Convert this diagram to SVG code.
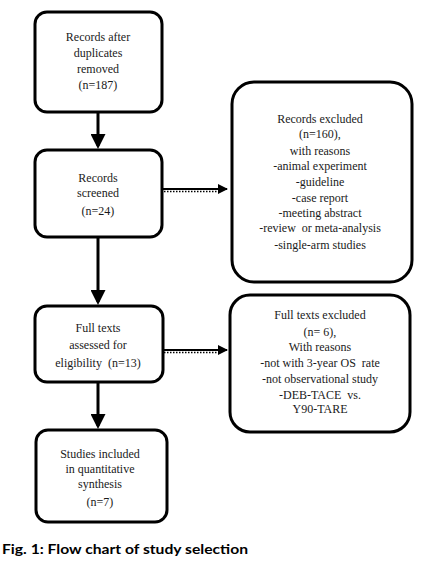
<svg xmlns="http://www.w3.org/2000/svg" width="427" height="567" viewBox="0 0 427 567">
<style>
.box{fill:#fff;stroke:#000;stroke-width:3}
.t{font-family:"Liberation Serif","Times New Roman",serif;font-size:12px;fill:#1a1a1a;text-anchor:middle;white-space:pre}
.c{stroke:#000;stroke-width:3;fill:none}
.h{stroke:#000;stroke-width:2;fill:none}
.d{stroke:#000;stroke-width:1.5;fill:none;stroke-dasharray:1.5 1.5}
.cap{font-family:"Lato","Liberation Sans",sans-serif;font-size:14px;font-weight:bold;fill:#000}
</style>
<defs>
<marker id="ah" markerWidth="5" markerHeight="5" refX="4" refY="2.5" orient="auto" markerUnits="strokeWidth">
<path d="M0,0 L5,2.5 L0,5 Z" fill="#000"/>
</marker>
<marker id="ahs" markerWidth="5" markerHeight="5" refX="4.5" refY="2.5" orient="auto" markerUnits="strokeWidth">
<path d="M0,0 L5,2.5 L0,5 Z" fill="#000"/>
</marker>
</defs>
<rect width="427" height="567" fill="#fff"/>
<g id="connectors">
<line class="c" x1="98" y1="112" x2="98" y2="146" marker-end="url(#ah)"/>
<line class="c" x1="98" y1="237" x2="98" y2="302" marker-end="url(#ah)"/>
<line class="c" x1="98" y1="382" x2="98" y2="426" marker-end="url(#ah)"/>
<line class="h" x1="163" y1="189" x2="227" y2="189" marker-end="url(#ahs)"/>
<line class="d" x1="164" y1="191.5" x2="220" y2="191.5"/>
<line class="h" x1="163" y1="350" x2="227" y2="350" marker-end="url(#ahs)"/>
<line class="d" x1="164" y1="352.5" x2="220" y2="352.5"/>
</g>
<g id="n1">
<rect class="box" x="35" y="12" width="127" height="100" rx="12"/>
<text class="t" x="98" y="41">Records after</text>
<text class="t" x="98" y="57">duplicates</text>
<text class="t" x="98" y="73">removed</text>
<text class="t" x="98" y="89">(n=187)</text>
</g>
<g id="n2">
<rect class="box" x="35" y="150" width="127" height="87" rx="12"/>
<text class="t" x="98" y="182">Records</text>
<text class="t" x="98" y="197">screened</text>
<text class="t" x="98" y="215">(n=24)</text>
</g>
<g id="n3">
<rect class="box" x="232" y="82" width="180" height="200" rx="22"/>
<text class="t" x="320" y="123">Records excluded</text>
<text class="t" x="320" y="138">(n=160),</text>
<text class="t" x="320" y="155">with reasons</text>
<text class="t" x="320" y="170">-animal experiment</text>
<text class="t" x="320" y="186">-guideline</text>
<text class="t" x="320" y="202">-case report</text>
<text class="t" x="320" y="217">-meeting abstract</text>
<text class="t" x="320" y="232">-review  or meta-analysis</text>
<text class="t" x="320" y="249">-single-arm studies</text>
</g>
<g id="n4">
<rect class="box" x="35" y="306" width="128" height="76" rx="12"/>
<text class="t" x="98" y="332">Full texts</text>
<text class="t" x="98" y="349">assessed for</text>
<text class="t" x="98" y="367">eligibility  (n=13)</text>
</g>
<g id="n5">
<rect class="box" x="230" y="295" width="180" height="137" rx="20"/>
<text class="t" x="320" y="319">Full texts excluded</text>
<text class="t" x="320" y="336">(n= 6),</text>
<text class="t" x="320" y="351">With reasons</text>
<text class="t" x="320" y="367">-not with 3-year OS  rate</text>
<text class="t" x="320" y="383">-not observational study</text>
<text class="t" x="320" y="399">-DEB-TACE  vs.</text>
<text class="t" x="320" y="413">Y90-TARE</text>
</g>
<g id="n6">
<rect class="box" x="36" y="430" width="131" height="92" rx="12"/>
<text class="t" x="100" y="458">Studies included</text>
<text class="t" x="100" y="473">in quantitative</text>
<text class="t" x="100" y="488">synthesis</text>
<text class="t" x="100" y="506">(n=7)</text>
</g>
<text class="cap" x="2" y="554" textLength="246" lengthAdjust="spacingAndGlyphs">Fig. 1: Flow chart of study selection</text>
</svg>
